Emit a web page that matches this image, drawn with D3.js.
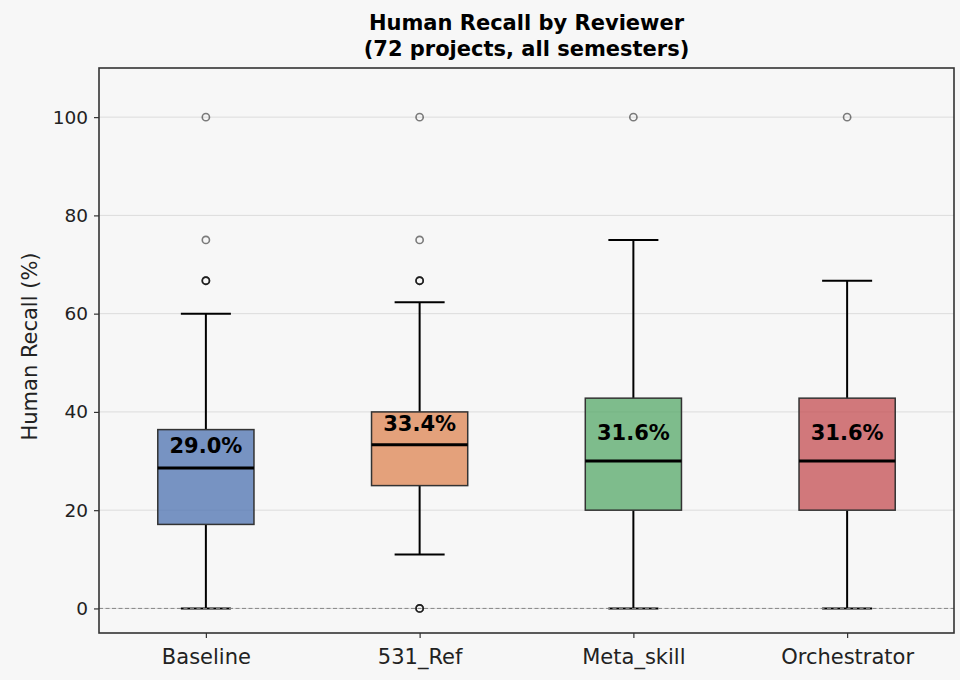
<!DOCTYPE html>
<html>
<head>
<meta charset="utf-8">
<script src="https://cdn.jsdelivr.net/npm/d3@7"></script>
<style>
  html, body { margin: 0; padding: 0; background: #f7f7f7; }
  svg { display: block; }
</style>
</head>
<body>
<svg id="chart" width="960" height="680"></svg>
<script>
// ---- data ----
const categories = ["Baseline", "531_Ref", "Meta_skill", "Orchestrator"];
const q1Values      = [17.1, 25.0, 20.0, 20.0];
const medianValues  = [28.6, 33.3, 30.0, 30.0];
const q3Values      = [36.4, 40.0, 42.8, 42.8];
const whiskerLow    = [0, 11.0, 0, 0];
const whiskerHigh   = [60.0, 62.3, 75.0, 66.7];
const meanValues    = [29.0, 33.4, 31.6, 31.6];
const outliers      = [
  [66.7, 66.7, 66.7, 75, 100],
  [0, 0, 0, 66.7, 66.7, 66.7, 75, 100],
  [100],
  [100]
];
const colors = ["#4C72B0", "#DD8452", "#55A868", "#C44E52"];
const yTicks = [0, 20, 40, 60, 80, 100];
const titleLines = ["Human Recall by Reviewer", "(72 projects, all semesters)"];
const yLabel = "Human Recall (%)";

// ---- layout ----
const svg = d3.select("#chart");
const W = 960, H = 680;
const m = { left: 99, right: 6, top: 68, bottom: 47 };
const pw = W - m.left - m.right, ph = H - m.top - m.bottom;

svg.append("rect").attr("width", W).attr("height", H).attr("fill", "#f7f7f7");

const x = d3.scaleLinear().domain([0.5, 4.5]).range([m.left, m.left + pw]);
const y = d3.scaleLinear().domain([-5, 110]).range([m.top + ph, m.top]);
const unit = x(2) - x(1);
const boxW = unit * 0.45;
const capW = boxW * 0.52;

const font = "'DejaVu Sans', sans-serif";

// grid
svg.append("g").selectAll("line").data(yTicks).join("line")
  .attr("x1", m.left).attr("x2", m.left + pw)
  .attr("y1", d => y(d)).attr("y2", d => y(d))
  .attr("stroke", "#dcdcdc").attr("stroke-width", 1);

const g = svg.append("g");
categories.forEach((c, i) => {
  const cx = x(i + 1);
  // whiskers
  g.append("line").attr("x1", cx).attr("x2", cx)
    .attr("y1", y(q3Values[i])).attr("y2", y(whiskerHigh[i]))
    .attr("stroke", "#000").attr("stroke-width", 2);
  g.append("line").attr("x1", cx).attr("x2", cx)
    .attr("y1", y(q1Values[i])).attr("y2", y(whiskerLow[i]))
    .attr("stroke", "#000").attr("stroke-width", 2);
  [whiskerHigh[i], whiskerLow[i]].forEach(v => {
    g.append("line").attr("x1", cx - capW / 2).attr("x2", cx + capW / 2)
      .attr("y1", y(v)).attr("y2", y(v))
      .attr("stroke", "#000").attr("stroke-width", 2);
  });
  // box
  g.append("rect")
    .attr("x", cx - boxW / 2).attr("width", boxW)
    .attr("y", y(q3Values[i])).attr("height", y(q1Values[i]) - y(q3Values[i]))
    .attr("fill", colors[i]).attr("fill-opacity", 0.75)
    .attr("stroke", "#333").attr("stroke-width", 1.5);
  // median
  g.append("line").attr("x1", cx - boxW / 2).attr("x2", cx + boxW / 2)
    .attr("y1", y(medianValues[i])).attr("y2", y(medianValues[i]))
    .attr("stroke", "#000").attr("stroke-width", 3);
  // outliers
  outliers[i].forEach(v => {
    g.append("circle").attr("cx", cx).attr("cy", y(v)).attr("r", 3.6)
      .attr("fill", "none").attr("stroke", "#000").attr("stroke-opacity", 0.5)
      .attr("stroke-width", 1.6);
  });
  // mean label
  g.append("text").attr("x", cx).attr("y", y(meanValues[i] + 2.7))
    .attr("text-anchor", "middle")
    .attr("font-family", font).attr("font-weight", "bold").attr("font-size", 21)
    .attr("fill", "#000")
    .text(meanValues[i].toFixed(1) + "%");
});

// dashed zero line
svg.append("line").attr("x1", m.left).attr("x2", m.left + pw)
  .attr("y1", y(0)).attr("y2", y(0))
  .attr("stroke", "#888").attr("stroke-width", 1).attr("stroke-dasharray", "4,2.5");

// frame
svg.append("rect").attr("x", m.left).attr("y", m.top).attr("width", pw).attr("height", ph)
  .attr("fill", "none").attr("stroke", "#333").attr("stroke-width", 1.6);

// y axis
const yAxis = svg.append("g").attr("transform", `translate(${m.left},0)`)
  .call(d3.axisLeft(y).tickValues(yTicks).tickSize(5).tickPadding(6));
yAxis.select(".domain").remove();
yAxis.selectAll(".tick line").attr("stroke", "#333").attr("stroke-width", 1.2);
yAxis.selectAll("text").attr("font-family", font).attr("font-size", 18.5).attr("fill", "#222");

// x axis
const xAxis = svg.append("g").attr("transform", `translate(0,${m.top + ph})`)
  .call(d3.axisBottom(x).tickValues([1, 2, 3, 4]).tickFormat(d => categories[d - 1]).tickSize(5).tickPadding(11));
xAxis.select(".domain").remove();
xAxis.selectAll(".tick line").attr("stroke", "#333").attr("stroke-width", 1.2);
xAxis.selectAll("text").attr("font-family", font).attr("font-size", 21).attr("fill", "#222");

// y label
svg.append("text")
  .attr("transform", `translate(37,${m.top + ph / 2 - 4}) rotate(-90)`)
  .attr("text-anchor", "middle")
  .attr("font-family", font).attr("font-size", 21).attr("fill", "#222")
  .text(yLabel);

// title
svg.append("text").attr("x", m.left + pw / 2).attr("y", 30)
  .attr("text-anchor", "middle").attr("font-family", font).attr("font-weight", "bold")
  .attr("font-size", 21).attr("fill", "#000").text(titleLines[0]);
svg.append("text").attr("x", m.left + pw / 2).attr("y", 56)
  .attr("text-anchor", "middle").attr("font-family", font).attr("font-weight", "bold")
  .attr("font-size", 21).attr("fill", "#000").text(titleLines[1]);
</script>
</body>
</html>
